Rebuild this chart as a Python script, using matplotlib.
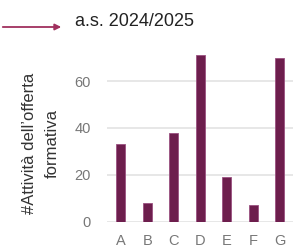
import matplotlib
matplotlib.use("Agg")
import matplotlib.pyplot as plt

categories = ["A", "B", "C", "D", "E", "F", "G"]
counts = [33, 8, 38, 71, 19, 7, 70]
yticks = [0, 20, 40, 60]
year_label = "a.s. 2024/2025"
ylabel = "#Attività dell\u2019offerta\nformativa"

plt.rcParams["font.family"] = ["Liberation Sans", "DejaVu Sans"]

W, H = 296, 248
fig = plt.figure(figsize=(W / 100, H / 100), dpi=100)
ax = fig.add_axes([107 / W, 26.3 / H, 186 / W, 168.8 / H])

ax.bar(range(len(categories)), counts, width=0.33, color="#6d1e4d",
       edgecolor="#9a5080", linewidth=0.6, zorder=3)
ax.set_xlim(-0.52, 6.5)
ax.set_ylim(0, 72)
ax.set_yticks(yticks)
ax.set_xticks(range(len(categories)))
ax.set_xticklabels(categories)
ax.grid(axis="y", color="#e3e3e3", linewidth=1.2, zorder=0)
for s in ax.spines.values():
    s.set_visible(False)
ax.tick_params(axis="both", length=0, labelsize=10.5, labelcolor="#777777")
ax.tick_params(axis="y", pad=11.5)
ax.tick_params(axis="x", pad=9)

fig.text(41 / W, 1 - 143 / H, ylabel, rotation=90, ha="center", va="center",
         fontsize=12, color="#333333", linespacing=1.6)

# header: arrow pointing to the school year
fig.text(75 / W, 1 - 21 / H, year_label, ha="left", va="center",
         fontsize=13, color="#222222")
fig.add_artist(matplotlib.patches.FancyArrowPatch(
    (0, 1 - 27 / H), (64 / W, 1 - 27 / H), transform=fig.transFigure,
    arrowstyle="-|>", mutation_scale=9, color="#a0305e", linewidth=1.3))

fig.savefig("out.png", dpi=100)
